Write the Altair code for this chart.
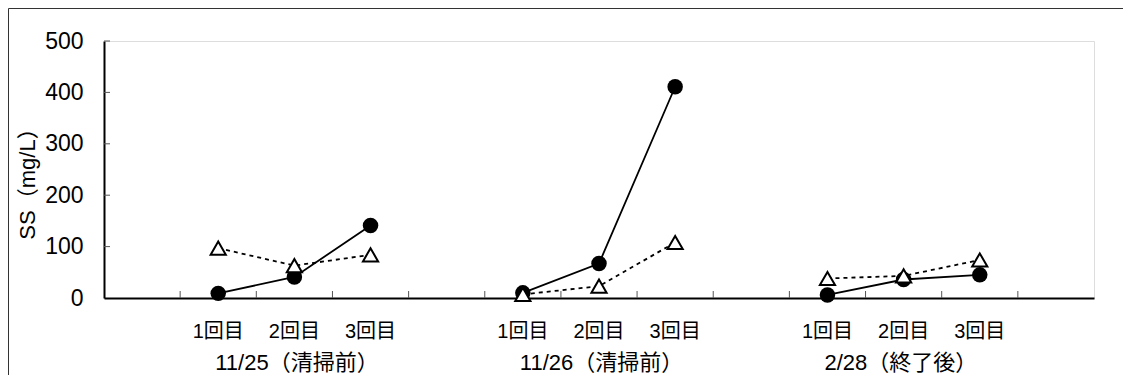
import altair as alt
import pandas as pd

# ---- data ----
x_labels = ["", "1回目", "2回目", "3回目", "", "1回目", "2回目", "3回目",
            "", "1回目", "2回目", "3回目", ""]
point_pos = [1, 2, 3, 5, 6, 7, 9, 10, 11]
point_group = ["11/25", "11/25", "11/25", "11/26", "11/26", "11/26",
               "2/28", "2/28", "2/28"]
circle_values = [9, 41, 141, 10, 67, 411, 6, 36, 45]
triangle_values = [97, 63, 84, 7, 23, 108, 38, 43, 74]
group_labels = ["11/25（清掃前）", "11/26（清掃前）", "2/28（終了後）"]
group_label_pos = [1, 5, 9]
y_ticks = [0, 100, 200, 300, 400, 500]
x_tick_pos = list(range(1, len(x_labels)))

W, H = 990, 257
FONT = "Liberation Sans, Noto Sans CJK JP"

circ = pd.DataFrame({"pos": point_pos, "value": circle_values, "grp": point_group})
tri = pd.DataFrame({"pos": point_pos, "value": triangle_values, "grp": point_group})
glab = pd.DataFrame({"pos": group_label_pos, "label": group_labels})
ytk = pd.DataFrame({"v": y_ticks[1:]})
xtk = pd.DataFrame({"pos": x_tick_pos})
one = pd.DataFrame({"a": [0]})

label_expr = "[" + ",".join("'" + s + "'" for s in x_labels) + "][datum.value]"

x_scale = alt.Scale(domain=list(range(len(x_labels))), paddingInner=0, paddingOuter=0)
x_axis = alt.Axis(title=None, labelExpr=label_expr, ticks=False, grid=False,
                  domainColor="black", domainWidth=2, labelFontSize=20,
                  labelFont=FONT, labelColor="black", labelPadding=23,
                  labelAngle=0)
y_scale = alt.Scale(domain=[0, 500], nice=False)
y_axis = alt.Axis(title="SS（mg/L）", values=y_ticks, ticks=False, grid=False,
                  domainColor="black", domainWidth=2, labelFontSize=23,
                  labelFont=FONT, labelColor="black", labelPadding=21,
                  titleFont=FONT, titleFontSize=22, titleFontWeight="normal",
                  titleColor="black", titlePadding=5, titleY=137)

def X(**kw):
    return alt.X("pos:O", scale=x_scale, axis=x_axis, **kw)

def Y(field="value"):
    return alt.Y(f"{field}:Q", scale=y_scale, axis=y_axis)

frame = alt.Chart(one).mark_rect(fill="transparent", stroke="#333333", strokeWidth=1).encode(
    x=alt.value(-95.5), x2=alt.value(W + 200), y=alt.value(-32.5), y2=alt.value(H + 200))

yt = alt.Chart(ytk).mark_rule(color="#555555", strokeWidth=1).encode(
    y=Y("v"), x=alt.value(0), x2=alt.value(6))

xt = alt.Chart(xtk).mark_rule(color="#555555", strokeWidth=1).encode(
    x=X(bandPosition=0), y=alt.value(H - 7), y2=alt.value(H))

line_c = alt.Chart(circ).mark_line(color="black", strokeWidth=1.8).encode(
    x=X(), y=Y(), detail="grp:N")
line_t = alt.Chart(tri).mark_line(color="black", strokeWidth=1.8, strokeDash=[4, 4]).encode(
    x=X(), y=Y(), detail="grp:N")
pts_c = alt.Chart(circ).mark_point(shape="circle", filled=True, color="black", size=240, opacity=1).encode(
    x=X(), y=Y())
pts_t = alt.Chart(tri).mark_point(shape="triangle-up", fill="white", stroke="black",
                                   strokeWidth=2, size=230, opacity=1, fillOpacity=1).encode(
    x=X(), y=Y())

gtext = alt.Chart(glab).mark_text(align="left", baseline="middle", fontSize=22,
                                  font=FONT, color="black", dx=-3).encode(
    x=X(), y=alt.value(H + 65), text="label:N")

chart = alt.layer(frame, yt, xt, line_t, line_c, pts_c, pts_t, gtext).properties(
    width=W, height=H,
    autosize=alt.AutoSizeParams(type="none"),
    padding={"left": 96, "top": 33, "right": 29, "bottom": 77},
).configure_view(stroke="#808080", strokeWidth=1).configure(background="white")

chart.save("out.html", embed_options={"renderer": "svg", "actions": False})
